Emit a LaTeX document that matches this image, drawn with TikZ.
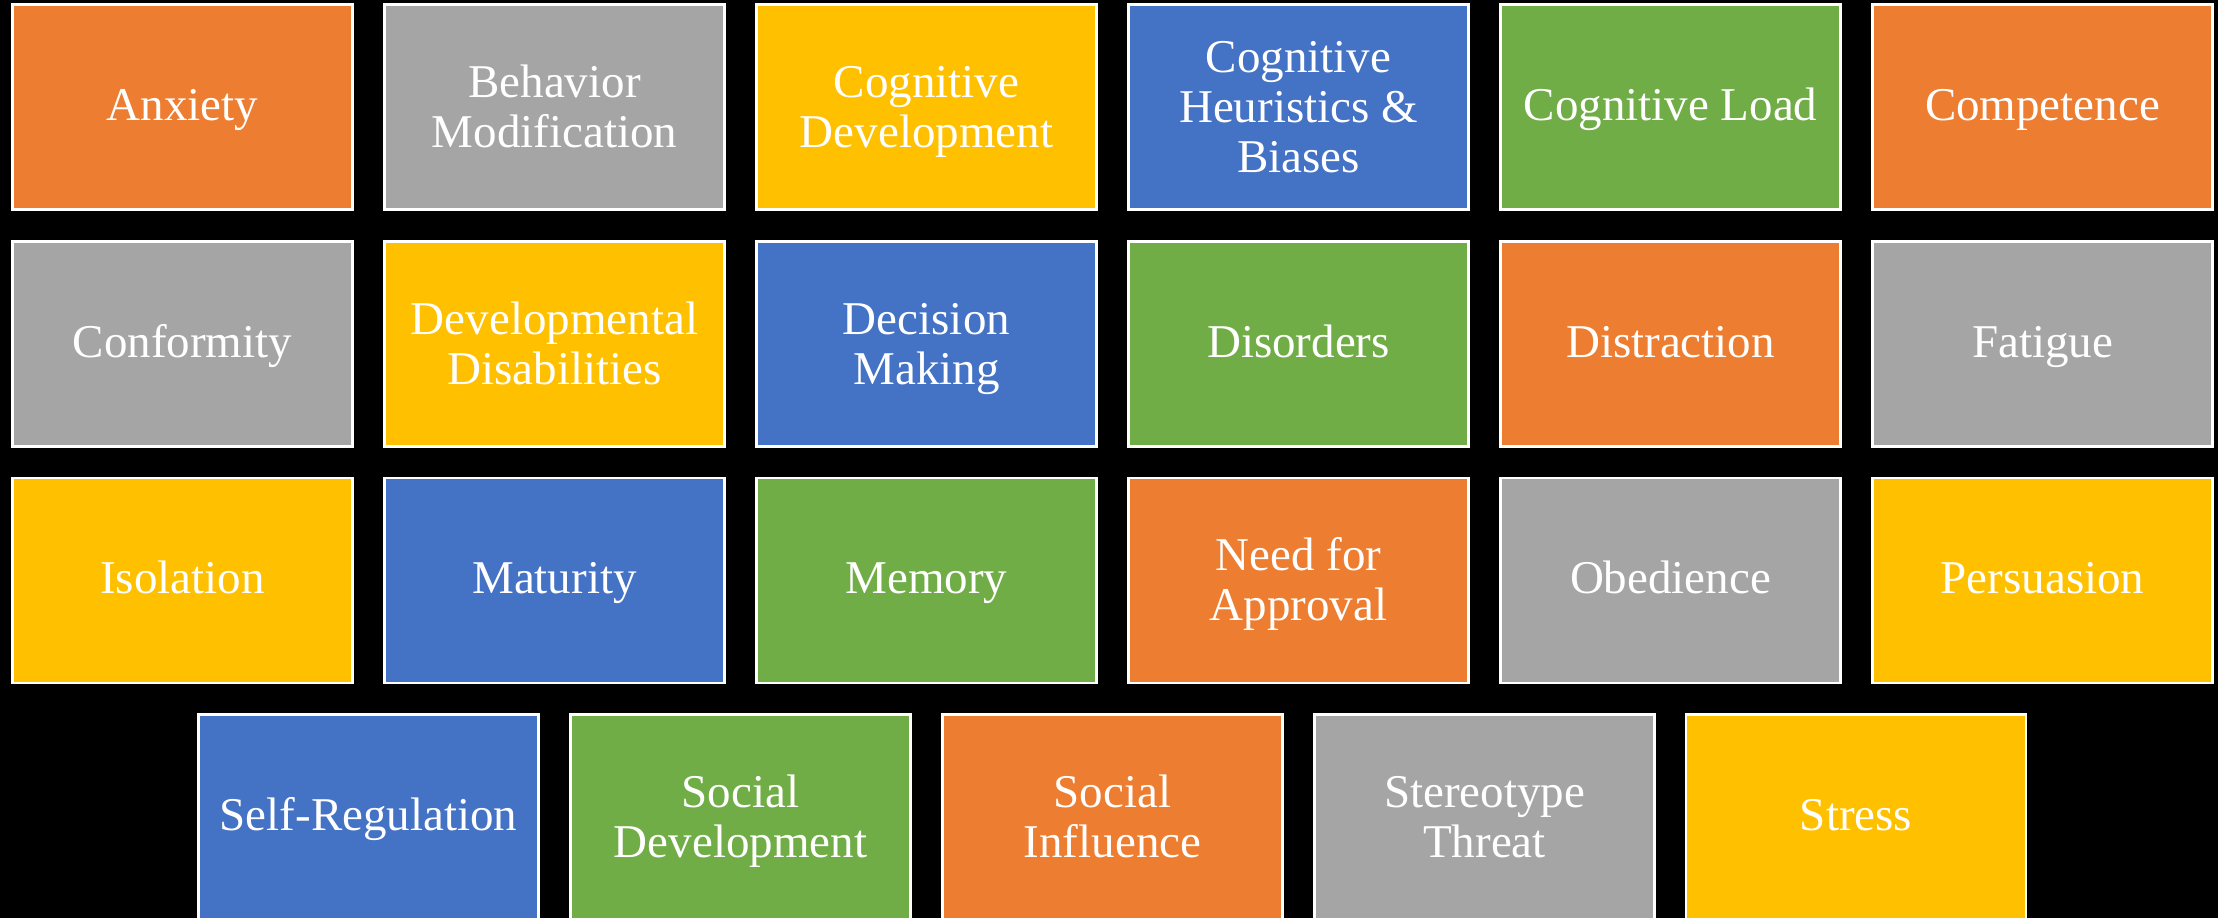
\documentclass[tikz,border=0pt]{standalone}
\usepackage{fontspec}
\setmainfont{Liberation Serif}
\definecolor{cO}{HTML}{ED7D31}
\definecolor{cG}{HTML}{A5A5A5}
\definecolor{cY}{HTML}{FFC000}
\definecolor{cB}{HTML}{4472C4}
\definecolor{cN}{HTML}{70AD47}
\newcommand{\tstrut}{\rule[-12bp]{0pt}{50bp}}
\newcommand{\mstrut}{\rule[-12bp]{0pt}{54bp}}
\tikzset{
  tile/.style={draw=white, line width=2.5bp, minimum width=340bp, minimum height=205bp,
    inner sep=0pt, align=center, text=white, font=\fontsize{47bp}{50bp}\selectfont,
    execute at begin node=\tstrut, execute at end node=\tstrut},
  O/.style={tile, fill=cO}, G/.style={tile, fill=cG}, Y/.style={tile, fill=cY},
  B/.style={tile, fill=cB}, N/.style={tile, fill=cN}
}
\begin{document}
\begin{tikzpicture}[x=1bp,y=-1bp]
\fill[black] (0,0) rectangle (2218,918);
\useasboundingbox (0,0) rectangle (2218,918);
% row 1
\node[O] (a1) at (182.5,107) {Anxiety};
\node[G] (a2) at (554.5,107) {\mstrut Behavior\\Modification};
\node[Y] (a3) at (926.5,107) {\mstrut Cognitive\\Development};
\node[B] (a4) at (1298.5,107) {\mstrut Cognitive\\Heuristics \&\\Biases};
\node[N] (a5) at (1670.5,107) {Cognitive Load};
\node[O] (a6) at (2042.5,107) {Competence};
% row 2
\node[G] (b1) at (182.5,344) {Conformity};
\node[Y] (b2) at (554.5,344) {\mstrut Developmental\\Disabilities};
\node[B] (b3) at (926.5,344) {\mstrut Decision\\Making};
\node[N] (b4) at (1298.5,344) {Disorders};
\node[O] (b5) at (1670.5,344) {Distraction};
\node[G] (b6) at (2042.5,344) {Fatigue};
% row 3
\node[Y] (c1) at (182.5,580.5) {Isolation};
\node[B] (c2) at (554.5,580.5) {Maturity};
\node[N] (c3) at (926.5,580.5) {Memory};
\node[O] (c4) at (1298.5,580.5) {\mstrut Need for\\Approval};
\node[G] (c5) at (1670.5,580.5) {Obedience};
\node[Y] (c6) at (2042.5,580.5) {Persuasion};
% row 4
\node[B] (d1) at (368.5,817) {Self-Regulation};
\node[N] (d2) at (740.5,817) {\mstrut Social\\Development};
\node[O] (d3) at (1112.5,817) {\mstrut Social\\Influence};
\node[G] (d4) at (1484.5,817) {\mstrut Stereotype\\Threat};
\node[Y] (d5) at (1856,817) {Stress};
\end{tikzpicture}
\end{document}
